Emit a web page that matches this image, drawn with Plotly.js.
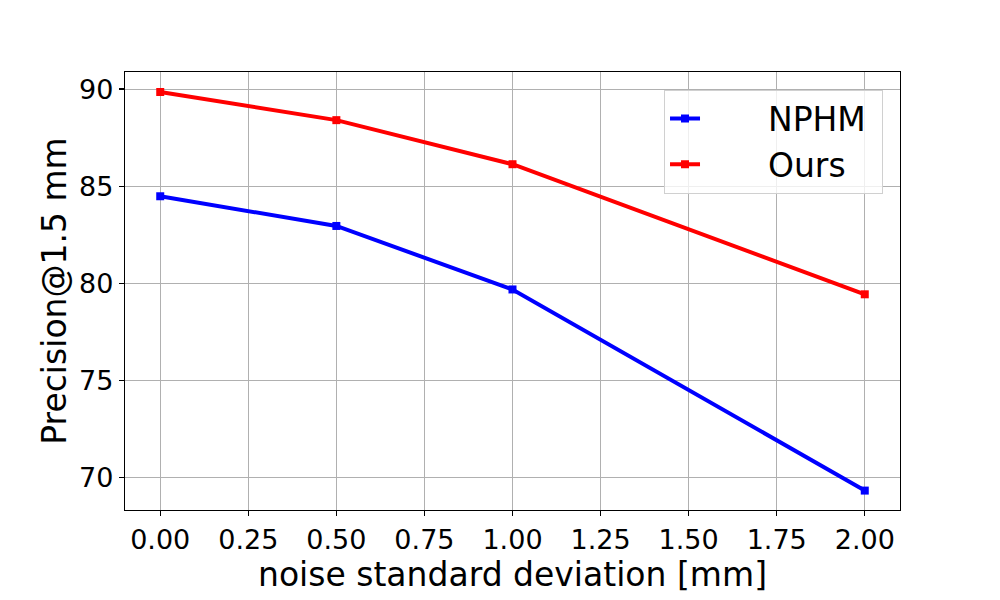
<!DOCTYPE html>
<html>
<head>
<meta charset="utf-8">
<script src="https://cdn.plot.ly/plotly-3.0.1.min.js"></script>
<style>
  html, body { margin: 0; padding: 0; background: #fff; }
  #chart { width: 1000px; height: 600px; }
</style>
</head>
<body>
<div id="chart"></div>
<script>
var noiseStd = [0.0, 0.5, 1.0, 2.0];
var nphm = [84.48, 82.95, 79.68, 69.32];
var ours = [89.85, 88.40, 86.13, 79.43];
var xTicks = [0.0, 0.25, 0.5, 0.75, 1.0, 1.25, 1.5, 1.75, 2.0];
var xTickText = ['0.00', '0.25', '0.50', '0.75', '1.00', '1.25', '1.50', '1.75', '2.00'];
var yTicks = [70, 75, 80, 85, 90];

var font = 'DejaVu Sans, sans-serif';
// spaces push the legend text away from the line sample, like matplotlib
var pad = '\u00a0\u00a0\u00a0\u00a0\u00a0\u00a0';

function series(name, y, color) {
  return {
    x: noiseStd,
    y: y,
    name: pad + name + '\u00a0',
    type: 'scatter',
    mode: 'lines+markers',
    line: { color: color, width: 4 },
    marker: { symbol: 'square', size: 8, color: color }
  };
}

var data = [
  series('NPHM', nphm, '#0000ff'),
  series('Ours', ours, '#ff0000')
];

var axisCommon = {
  showline: true,
  mirror: true,
  linecolor: '#000',
  linewidth: 1.2,
  ticks: 'outside',
  ticklen: 5,
  tickwidth: 1.2,
  tickcolor: '#000',
  showgrid: true,
  gridcolor: '#b0b0b0',
  gridwidth: 1,
  zeroline: false,
  tickfont: { family: font, size: 27, color: '#000' }
};

var layout = {
  width: 1000,
  height: 600,
  margin: { t: 72, b: 90, l: 125, r: 100 },
  paper_bgcolor: '#fff',
  plot_bgcolor: '#fff',
  showlegend: true,
  legend: {
    x: 0.6955, y: 0.96,
    xanchor: 'left', yanchor: 'top',
    bgcolor: 'rgba(255,255,255,0.8)',
    bordercolor: '#d0d0d0',
    borderwidth: 1,
    font: { family: font, size: 33, color: '#000' }
  },
  xaxis: Object.assign({}, axisCommon, {
    range: [-0.1, 2.1],
    tickmode: 'array',
    tickvals: xTicks,
    ticktext: xTickText,
    title: { text: 'noise standard deviation [mm]', font: { family: font, size: 33, color: '#000' }, standoff: 0 },
    automargin: false
  }),
  yaxis: Object.assign({}, axisCommon, {
    range: [68.32, 90.88],
    tickmode: 'array',
    tickvals: yTicks,
    title: { text: 'Precision@1.5 mm', font: { family: font, size: 33, color: '#000' }, standoff: 2 }
  })
};

Plotly.newPlot('chart', data, layout, { displayModeBar: false, staticPlot: true });
</script>
</body>
</html>
